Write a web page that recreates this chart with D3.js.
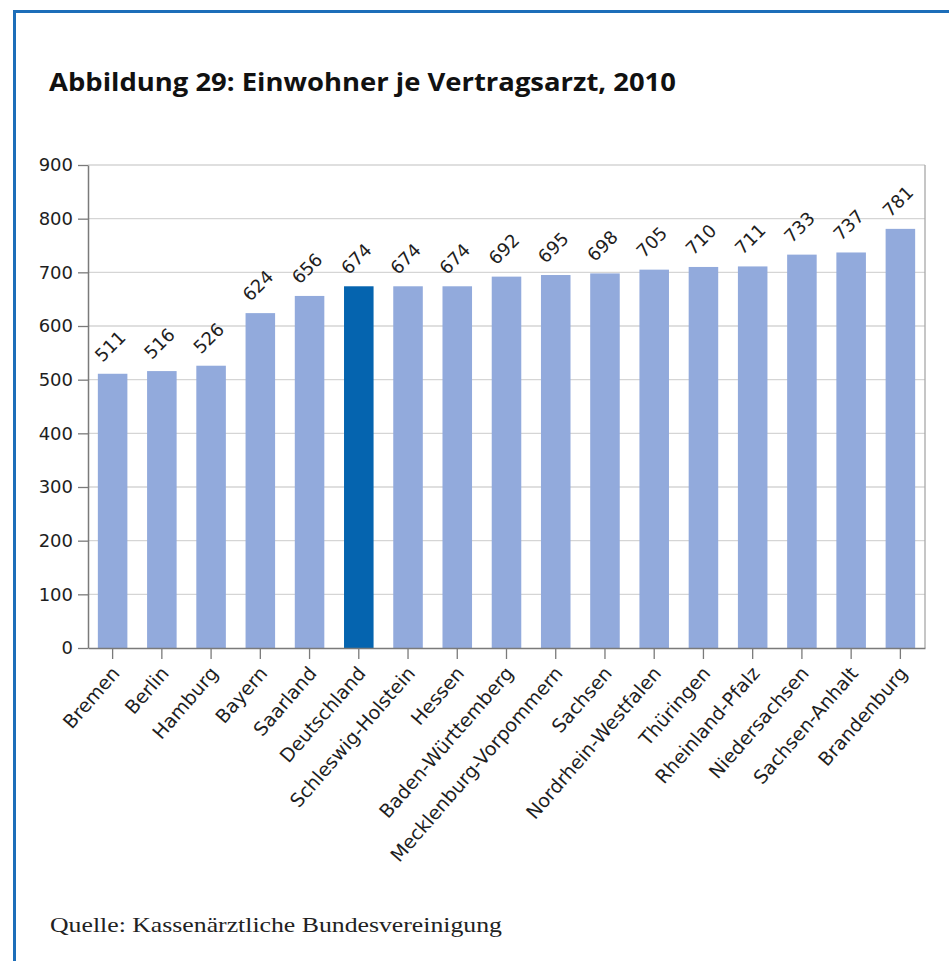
<!DOCTYPE html>
<html>
<head>
<meta charset="utf-8">
<script src="https://cdn.jsdelivr.net/npm/d3@7"></script>
<style>
  html, body { margin: 0; padding: 0; background: #fff; }
  svg { display: block; }
</style>
</head>
<body>
<svg id="chart" width="949" height="961"></svg>
<script>
// Einwohner je Vertragsarzt nach Bundesland, 2010
const categories = ["Bremen", "Berlin", "Hamburg", "Bayern", "Saarland", "Deutschland",
  "Schleswig-Holstein", "Hessen", "Baden-Württemberg", "Mecklenburg-Vorpommern", "Sachsen",
  "Nordrhein-Westfalen", "Thüringen", "Rheinland-Pfalz", "Niedersachsen", "Sachsen-Anhalt",
  "Brandenburg"];
const values = [511, 516, 526, 624, 656, 674, 674, 674, 692, 695, 698, 705, 710, 711, 733, 737, 781];
const highlight = ["Deutschland"];
const yTicks = [0, 100, 200, 300, 400, 500, 600, 700, 800, 900];
const titleText = "Abbildung 29: Einwohner je Vertragsarzt, 2010";
const sourceText = "Quelle: Kassenärztliche Bundesvereinigung";

const svg = d3.select("#chart");
const frameBlue = "#1d6eb9";
const barLight = "#92aadc";
const barDark = "#0564af";
const textColor = "#1e1e1e";
const sans = "'DejaVu Sans', Verdana, sans-serif";

// frame: top and left rule
svg.append("line").attr("x1", 13).attr("x2", 949).attr("y1", 11.5).attr("y2", 11.5)
  .attr("stroke", frameBlue).attr("stroke-width", 3);
svg.append("line").attr("x1", 14.5).attr("x2", 14.5).attr("y1", 10).attr("y2", 961)
  .attr("stroke", frameBlue).attr("stroke-width", 3);

// title
const title = svg.append("text").attr("x", 49).attr("y", 91)
  .attr("font-family", "'Open Sans', sans-serif").attr("font-weight", 700)
  .attr("font-size", 25.5).attr("fill", "#111").text(titleText);
if (title.node().getComputedTextLength() > 0) title.attr("textLength", 627).attr("lengthAdjust", "spacingAndGlyphs");

// source line
const src = svg.append("text").attr("x", 50).attr("y", 932)
  .attr("font-family", "'Liberation Serif', 'DejaVu Serif', serif")
  .attr("font-size", 22).attr("fill", "#222").text(sourceText);
if (src.node().getComputedTextLength() > 0) src.attr("textLength", 452).attr("lengthAdjust", "spacingAndGlyphs");

// plot geometry
const plotLeft = 88, plotRight = 925, plotTop = 165, plotBottom = 648;

const x = d3.scaleBand().domain(categories).range([plotLeft, plotRight])
  .paddingInner(0.4).paddingOuter(0.2);
const y = d3.scaleLinear().domain([0, 900]).range([plotBottom, plotTop]);

// gridlines
svg.append("g").selectAll("line").data(yTicks.filter(d => d > 0)).join("line")
  .attr("x1", plotLeft).attr("x2", plotRight)
  .attr("y1", d => y(d)).attr("y2", d => y(d))
  .attr("stroke", "#d5d5d5").attr("stroke-width", 1.3);

// right frame of plot area
svg.append("line").attr("x1", plotRight).attr("x2", plotRight).attr("y1", plotTop).attr("y2", plotBottom)
  .attr("stroke", "#a8a8a8").attr("stroke-width", 1.3);

// bars
svg.append("g").selectAll("rect").data(categories).join("rect")
  .attr("x", d => x(d)).attr("width", x.bandwidth())
  .attr("y", (d, i) => y(values[i])).attr("height", (d, i) => y(0) - y(values[i]))
  .attr("fill", d => highlight.includes(d) ? barDark : barLight);

// value labels
svg.append("g").selectAll("text").data(categories).join("text")
  .attr("transform", (d, i) => `translate(${x(d) + x.bandwidth() / 2 + 2},${y(values[i]) - 23}) rotate(-45)`)
  .attr("text-anchor", "middle")
  .attr("font-family", sans).attr("font-size", 18).attr("fill", textColor)
  .text((d, i) => values[i]);

// y axis
const yAxis = d3.axisLeft(y).tickValues(yTicks).tickSize(10).tickPadding(5).tickSizeOuter(0);
const gy = svg.append("g").attr("transform", `translate(${plotLeft},0)`).call(yAxis);
gy.select(".domain").attr("stroke", "#7a7a7a").attr("stroke-width", 1.5);
gy.selectAll(".tick line").attr("stroke", "#7a7a7a").attr("stroke-width", 1.3);
gy.selectAll(".tick text").attr("font-family", sans).attr("font-size", 18).attr("fill", textColor);

// x axis
const xAxis = d3.axisBottom(x).tickSize(11).tickSizeOuter(0);
const gx = svg.append("g").attr("transform", `translate(0,${plotBottom})`).call(xAxis);
gx.select(".domain").attr("stroke", "#7a7a7a").attr("stroke-width", 1.5);
gx.selectAll(".tick line").attr("stroke", "#7a7a7a").attr("stroke-width", 1.3);
gx.selectAll(".tick text")
  .attr("font-family", sans).attr("font-size", 19).attr("fill", textColor)
  .attr("text-anchor", "end")
  .attr("dy", null).attr("y", null)
  .attr("transform", "translate(8,26) rotate(-49)");
</script>
</body>
</html>
